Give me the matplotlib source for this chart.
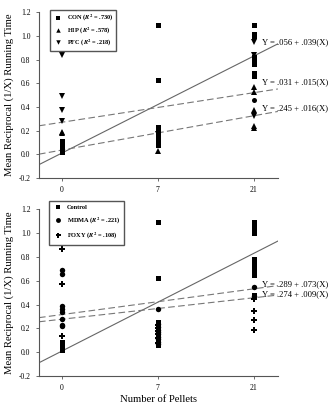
import numpy as np
import matplotlib.pyplot as plt
from matplotlib.lines import Line2D

plt.rcParams['font.family'] = ['Liberation Serif', 'DejaVu Serif']
plt.rcParams['mathtext.fontset'] = 'stix'

pellets = ['0', '7', '21']

# top panel (lesion groups), values per pellet condition
con_vals = [[0.02, 0.03, 0.04, 0.05, 0.06, 0.07, 0.08, 0.09, 0.11],
            [1.09, 0.625, 0.23, 0.21, 0.19, 0.17, 0.15, 0.13, 0.11, 0.09, 0.075],
            [1.09, 1.02, 1.0, 0.82, 0.80, 0.78, 0.76, 0.69, 0.66]]
hip_vals = [[0.19, 0.175], [0.025], [0.57, 0.525, 0.37, 0.24, 0.22]]
pfc_vals = [[0.84, 0.49, 0.37, 0.28], [0.17], [0.95, 0.84, 0.325]]
other_top = [[], [], [0.46]]

# bottom panel (drug groups)
ctl_vals = [[0.02, 0.03, 0.05, 0.06, 0.07, 0.08, 0.09],
            [1.09, 0.62, 0.25, 0.22, 0.2, 0.18, 0.16, 0.14, 0.12, 0.1, 0.08, 0.06],
            [1.09, 1.05, 1.03, 1.0, 0.78, 0.76, 0.74, 0.70, 0.68, 0.65, 0.48, 0.46]]
mdma_vals = [[0.69, 0.66, 0.39, 0.36, 0.34, 0.28, 0.23, 0.22],
             [0.36, 0.24, 0.21, 0.19, 0.17, 0.15, 0.13, 0.11, 0.09, 0.07],
             [0.55, 0.47]]
foxy_vals = [[0.87, 0.57, 0.14], [0.23, 0.2, 0.18, 0.15, 0.12, 0.08], [0.45, 0.35, 0.27, 0.19]]

# fitted lines drawn on the category axis (intercept, slope per category step)
top_fits = [(0.01, 0.41, '-'), (0.27, 0.125, '--'), (0.035, 0.145, '--')]
bot_fits = [(0.01, 0.41, '-'), (0.316, 0.108, '--'), (0.277, 0.09, '--')]
top_eqs = ['Y = .056 + .039(X)', 'Y = .031 + .015(X)', 'Y = .245 + .016(X)']
bot_eqs = ['Y = .289 + .073(X)', 'Y = .274 + .009(X)']

yticks = [-0.2, 0.0, 0.2, 0.4, 0.6, 0.8, 1.0, 1.2]
xlim = (-0.24, 2.25)


def scatter_group(ax, vals, marker, ms):
    for i, v in enumerate(vals):
        ax.plot([i] * len(v), v, linestyle='none', marker=marker, color='black',
                markersize=ms, markeredgewidth=0)


def style_axes(ax):
    for s in ['top', 'right']:
        ax.spines[s].set_visible(False)
    for s in ['left', 'bottom']:
        ax.spines[s].set_color('#555555')
        ax.spines[s].set_linewidth(0.8)
    ax.set_xlim(*xlim)
    ax.set_ylim(-0.2, 1.2)
    ax.set_xticks(range(len(pellets)))
    ax.set_xticklabels(pellets)
    ax.set_yticks(yticks)
    ax.set_yticklabels(['%.1f' % t for t in yticks])
    ax.tick_params(labelsize=5.5, length=2, width=0.6, color='#555555', pad=4)
    ax.set_ylabel('Mean Reciprocal (1/X) Running Time', fontsize=7.7, labelpad=3)


def draw_fits(ax, fits):
    xs = np.array(xlim)
    for a, b, ls in fits:
        if ls == '-':
            ax.plot(xs, a + b * xs, color='#666666', lw=0.8)
        else:
            ax.plot(xs, a + b * xs, color='#777777', lw=0.8, dashes=(6, 3))


def add_legend(ax, handles, labels, anchor, spacing, pad):
    ax.legend(handles, labels, loc='upper left', bbox_to_anchor=anchor, borderaxespad=0,
              prop={'size': 4.6, 'weight': 'bold'}, fancybox=False, edgecolor='#555555',
              framealpha=1, handletextpad=0.6, handlelength=1.6, labelspacing=spacing,
              borderpad=pad)


fig = plt.figure(figsize=(3.3, 4.07), dpi=100)
ax1 = fig.add_axes([0.118, 0.563, 0.724, 0.407])
ax2 = fig.add_axes([0.118, 0.076, 0.724, 0.410])

# top panel
draw_fits(ax1, top_fits)
scatter_group(ax1, con_vals, 's', 3.6)
scatter_group(ax1, hip_vals, '^', 3.9)
scatter_group(ax1, pfc_vals, 'v', 3.9)
scatter_group(ax1, other_top, 'o', 3.6)
style_axes(ax1)
for y, t in zip([0.95, 0.61, 0.39], top_eqs):
    ax1.text(2.08, y, t, fontsize=6.2, va='center')
h1 = [Line2D([], [], ls='none', marker=m, color='black', ms=3.2, mew=0) for m in ['s', '^', 'v']]
add_legend(ax1, h1, [r'CON ($\mathbfit{R}^{\mathbf{2}}$ = .730)', r'HIP ($\mathbfit{R}^{\mathbf{2}}$ = .578)',
                     r'PFC ($\mathbfit{R}^{\mathbf{2}}$ = .218)'], (0.046, 1.012), 0.3, 0.45)

# bottom panel
draw_fits(ax2, bot_fits)
scatter_group(ax2, ctl_vals, 's', 3.6)
scatter_group(ax2, mdma_vals, 'o', 3.9)
scatter_group(ax2, foxy_vals, 'P', 4.0)
style_axes(ax2)
ax2.set_xlabel('Number of Pellets', fontsize=7.7, labelpad=2)
for y, t in zip([0.575, 0.49], bot_eqs):
    ax2.text(2.08, y, t, fontsize=6.2, va='center')
h2 = [Line2D([], [], ls='none', marker=m, color='black', ms=s, mew=0)
      for m, s in [('s', 3.2), ('o', 3.5), ('P', 3.6)]]
add_legend(ax2, h2, ['Control', r'MDMA ($\mathbfit{R}^{\mathbf{2}}$ = .221)',
                     r'FOXY ($\mathbfit{R}^{\mathbf{2}}$ = .108)'], (0.042, 1.048), 0.75, 0.6)

fig.savefig('out.png', dpi=100)
